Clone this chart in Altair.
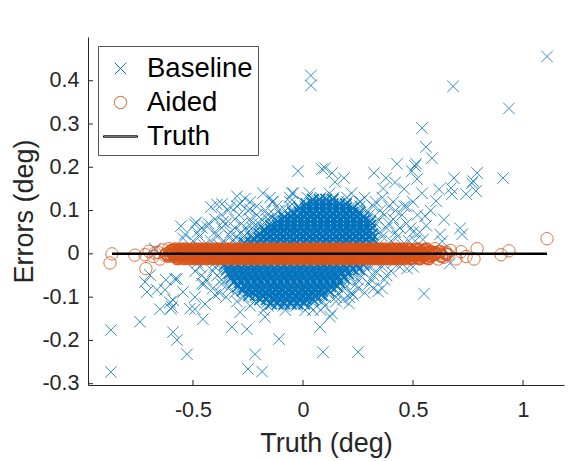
import altair as alt
import pandas as pd

# ---------------- data ----------------
series_names = ["Baseline", "Aided", "Truth"]
series_colors = ["#0072BD", "#D95319", "#000000"]

# Baseline errors: scattered outliers (truth, error)
base_out_x = [1.109, 0.036, 0.036, 0.682, 0.936, 0.541, 0.559, 0.586, 0.909, -0.023,
              0.086, 0.132, 0.186, 0.323, 0.427, 0.377, 0.495, 0.514, 0.518, 0.686,
              0.791, 0.768, 0.786, 0.741, 0.673, 0.618, 0.677, 0.605, 0.641, 0.714,
              0.509, 0.773, 0.541, 0.555, 0.723, 0.623, 0.632, 0.545, 0.668, 0.550,
              0.473, 0.359, 0.341, 0.209, 0.227, 0.132, 0.123, 0.045, 0.077, 0.091,
              0.250, 0.064, 0.182, -0.709, -0.664, -0.591, -0.573, -0.527, -0.455, -0.323,
              -0.255, -0.218, -0.250, -0.186, -0.109, -0.173, -0.286, -0.491, -0.650, -0.595,
              -0.741, -0.873, -0.873, -0.605, -0.600, -0.718, -0.695, -0.582, -0.555, -0.491,
              -0.536, -0.673, -0.514, -0.623, -0.545, -0.486, -0.545, -0.418, -0.368, -0.300,
              -0.286, -0.182, -0.136, -0.045, -0.241, -0.364, -0.436, -0.264, -0.391, -0.332,
              0.100, 0.145, 0.364, 0.259, 0.418, -0.491, -0.445, -0.400, -0.459, -0.573,
              -0.627, -0.590, 0.500, 0.520, 0.490, 0.530, 0.510, 0.560, 0.580, 0.500,
              0.460, 0.470]
base_out_y = [0.456, 0.412, 0.389, 0.387, 0.336, 0.291, 0.247, 0.221, 0.175, 0.191,
              0.196, 0.187, 0.175, 0.187, 0.208, 0.175, 0.191, 0.208, 0.173, 0.175,
              0.187, 0.163, 0.145, 0.138, 0.152, 0.149, 0.138, 0.122, 0.079, 0.059,
              0.203, 0.168, 0.140, 0.087, 0.045, 0.045, 0.029, 0.033, -0.022, -0.092,
              -0.034, -0.080, -0.087, -0.115, -0.095, -0.138, -0.145, -0.130, -0.169, -0.227,
              -0.227, -0.104, -0.106, -0.088, -0.083, -0.181, -0.199, -0.232, -0.151, -0.169,
              -0.174, -0.232, -0.266, -0.272, -0.197, -0.146, -0.135, -0.128, -0.128, -0.123,
              -0.157, -0.273, -0.176, -0.112, -0.127, -0.065, -0.049, -0.058, 0.064, 0.068,
              0.045, 0.012, -0.127, -0.060, -0.088, 0.073, 0.036, 0.108, 0.115, 0.133,
              0.116, 0.140, 0.121, 0.140, 0.103, 0.074, 0.063, 0.128, 0.114, 0.109,
              0.198, 0.166, 0.151, 0.121, 0.165, -0.100, -0.116, -0.095, -0.069, -0.058,
              -0.083, -0.107, 0.120, 0.090, 0.060, 0.050, 0.030, 0.065, 0.100, -0.030,
              0.150, 0.110]

# Baseline errors: cloud, one list of truth values per error level
core_levels = [0.14, 0.13, 0.12, 0.11, 0.10, 0.09, 0.08, 0.07, 0.06, 0.05, 0.04, 0.03, 0.02,
               -0.02, -0.03, -0.04, -0.05, -0.06, -0.07, -0.08, -0.09, -0.10, -0.11, -0.12, -0.13]
core_truth = [
    [-0.05, 0.03, 0.12, 0.22],
    [-0.15, -0.06, 0.02, 0.08, 0.14, 0.20, 0.28, 0.36],
    [-0.24, -0.14, -0.06, 0.00, 0.04, 0.08, 0.12, 0.16, 0.20, 0.26, 0.33, 0.41],
    [-0.30, -0.21, -0.12, -0.06, -0.02, 0.01, 0.04, 0.07, 0.10, 0.13, 0.16, 0.19, 0.22, 0.26, 0.32, 0.39, 0.46],
    [-0.34, -0.25, -0.17, -0.11, -0.08, -0.05, -0.02, 0.01, 0.04, 0.07, 0.10, 0.13, 0.16, 0.19, 0.22, 0.25, 0.29, 0.35, 0.42],
    [-0.37, -0.29, -0.21, -0.16, -0.13, -0.10, -0.07, -0.04, -0.01, 0.02, 0.05, 0.08, 0.11, 0.14, 0.17, 0.20, 0.23, 0.26, 0.30, 0.37, 0.45],
    [-0.40, -0.31, -0.24, -0.19, -0.16, -0.13, -0.10, -0.07, -0.04, -0.01, 0.02, 0.05, 0.08, 0.11, 0.14, 0.17, 0.20, 0.23, 0.26, 0.29, 0.34, 0.41],
    [-0.43, -0.35, -0.28, -0.23, -0.20, -0.17, -0.14, -0.11, -0.08, -0.05, -0.02, 0.01, 0.04, 0.07, 0.10, 0.13, 0.16, 0.19, 0.22, 0.25, 0.28, 0.33, 0.39, 0.47],
    [-0.46, -0.37, -0.31, -0.26, -0.23, -0.20, -0.17, -0.14, -0.11, -0.08, -0.05, -0.02, 0.01, 0.04, 0.07, 0.10, 0.13, 0.16, 0.19, 0.22, 0.25, 0.28, 0.32, 0.38, 0.44],
    [-0.48, -0.40, -0.33, -0.28, -0.25, -0.22, -0.19, -0.16, -0.13, -0.10, -0.07, -0.04, -0.01, 0.02, 0.05, 0.08, 0.11, 0.14, 0.17, 0.20, 0.23, 0.26, 0.29, 0.35, 0.42, 0.50],
    [-0.47, -0.39, -0.33, -0.30, -0.27, -0.24, -0.21, -0.18, -0.15, -0.12, -0.09, -0.06, -0.03, 0.00, 0.03, 0.06, 0.09, 0.12, 0.15, 0.18, 0.21, 0.24, 0.27, 0.30, 0.36, 0.43],
    [-0.50, -0.42, -0.36, -0.32, -0.29, -0.26, -0.23, -0.20, -0.17, -0.14, -0.11, -0.08, -0.05, -0.02, 0.01, 0.04, 0.07, 0.10, 0.13, 0.16, 0.19, 0.22, 0.25, 0.28, 0.33, 0.40, 0.48],
    [-0.45, -0.38, -0.30, -0.22, -0.14, -0.06, 0.02, 0.10, 0.18, 0.26, 0.34, 0.45],
    [-0.48, -0.40, -0.31, -0.23, -0.15, -0.07, 0.01, 0.09, 0.17, 0.25, 0.33, 0.41],
    [-0.47, -0.40, -0.35, -0.32, -0.29, -0.26, -0.23, -0.20, -0.17, -0.14, -0.11, -0.08, -0.05, -0.02, 0.01, 0.04, 0.07, 0.10, 0.13, 0.16, 0.19, 0.22, 0.25, 0.30, 0.36, 0.44],
    [-0.49, -0.41, -0.35, -0.32, -0.29, -0.26, -0.23, -0.20, -0.17, -0.14, -0.11, -0.08, -0.05, -0.02, 0.01, 0.04, 0.07, 0.10, 0.13, 0.16, 0.19, 0.22, 0.27, 0.33, 0.40],
    [-0.46, -0.39, -0.33, -0.30, -0.27, -0.24, -0.21, -0.18, -0.15, -0.12, -0.09, -0.06, -0.03, 0.00, 0.03, 0.06, 0.09, 0.12, 0.15, 0.18, 0.21, 0.26, 0.32, 0.38],
    [-0.44, -0.37, -0.32, -0.29, -0.26, -0.23, -0.20, -0.17, -0.14, -0.11, -0.08, -0.05, -0.02, 0.01, 0.04, 0.07, 0.10, 0.13, 0.16, 0.20, 0.25, 0.31, 0.37],
    [-0.45, -0.37, -0.30, -0.27, -0.24, -0.21, -0.18, -0.15, -0.12, -0.09, -0.06, -0.03, 0.00, 0.03, 0.06, 0.09, 0.12, 0.15, 0.19, 0.24, 0.30],
    [-0.41, -0.34, -0.28, -0.25, -0.22, -0.19, -0.16, -0.13, -0.10, -0.07, -0.04, -0.01, 0.02, 0.05, 0.08, 0.11, 0.14, 0.19, 0.25, 0.32],
    [-0.38, -0.31, -0.25, -0.22, -0.19, -0.16, -0.13, -0.10, -0.07, -0.04, -0.01, 0.02, 0.05, 0.08, 0.11, 0.16, 0.22, 0.28],
    [-0.35, -0.27, -0.21, -0.18, -0.15, -0.12, -0.09, -0.06, -0.03, 0.00, 0.03, 0.06, 0.10, 0.15, 0.21],
    [-0.30, -0.22, -0.16, -0.12, -0.09, -0.06, -0.03, 0.00, 0.04, 0.09, 0.15],
    [-0.24, -0.16, -0.09, -0.03, 0.03, 0.10],
    [-0.18, -0.08, 0.01, 0.08],
]

# Baseline errors: densest part of the cloud, between the levels above
dense_levels = [0.125, 0.115, 0.105, 0.095, 0.085, 0.075, 0.065, 0.055, 0.045, 0.035, 0.025,
                -0.025, -0.035, -0.045, -0.055, -0.065, -0.075, -0.085, -0.095, -0.105, -0.115]
dense_truth = [
    [0.045, 0.075, 0.105, 0.135],
    [0.015, 0.045, 0.075, 0.105, 0.135, 0.165, 0.195],
    [-0.015, 0.015, 0.045, 0.075, 0.105, 0.135, 0.165, 0.195, 0.225],
    [-0.045, -0.015, 0.015, 0.045, 0.075, 0.105, 0.135, 0.165, 0.195, 0.225, 0.255],
    [-0.085, -0.055, -0.025, 0.005, 0.035, 0.065, 0.095, 0.125, 0.155, 0.185, 0.215, 0.245, 0.275],
    [-0.115, -0.085, -0.055, -0.025, 0.005, 0.035, 0.065, 0.095, 0.125, 0.155, 0.185, 0.215, 0.245, 0.275, 0.305],
    [-0.145, -0.115, -0.085, -0.055, -0.025, 0.005, 0.035, 0.065, 0.095, 0.125, 0.155, 0.185, 0.215, 0.245, 0.275, 0.305],
    [-0.175, -0.145, -0.115, -0.085, -0.055, -0.025, 0.005, 0.035, 0.065, 0.095, 0.125, 0.155, 0.185, 0.215, 0.245, 0.275, 0.305],
    [-0.195, -0.165, -0.135, -0.105, -0.075, -0.045, -0.015, 0.015, 0.045, 0.075, 0.105, 0.135, 0.165, 0.195, 0.225, 0.255, 0.285, 0.315],
    [-0.225, -0.195, -0.165, -0.135, -0.105, -0.075, -0.045, -0.015, 0.015, 0.045, 0.075, 0.105, 0.135, 0.165, 0.195, 0.225, 0.255, 0.285, 0.315],
    [-0.265, -0.235, -0.205, -0.175, -0.145, -0.115, -0.085, -0.055, -0.025, 0.005, 0.035, 0.065, 0.095, 0.125, 0.155, 0.185, 0.215, 0.245, 0.275, 0.305],
    [-0.355, -0.325, -0.295, -0.265, -0.235, -0.205, -0.175, -0.145, -0.115, -0.085, -0.055, -0.025, 0.005, 0.035, 0.065, 0.095, 0.125, 0.155, 0.185, 0.215, 0.245, 0.275],
    [-0.345, -0.315, -0.285, -0.255, -0.225, -0.195, -0.165, -0.135, -0.105, -0.075, -0.045, -0.015, 0.015, 0.045, 0.075, 0.105, 0.135, 0.165, 0.195, 0.225, 0.255],
    [-0.335, -0.305, -0.275, -0.245, -0.215, -0.185, -0.155, -0.125, -0.095, -0.065, -0.035, -0.005, 0.025, 0.055, 0.085, 0.115, 0.145, 0.175, 0.205],
    [-0.325, -0.295, -0.265, -0.235, -0.205, -0.175, -0.145, -0.115, -0.085, -0.055, -0.025, 0.005, 0.035, 0.065, 0.095, 0.125, 0.155, 0.185],
    [-0.315, -0.285, -0.255, -0.225, -0.195, -0.165, -0.135, -0.105, -0.075, -0.045, -0.015, 0.015, 0.045, 0.075, 0.105, 0.135, 0.165],
    [-0.295, -0.265, -0.235, -0.205, -0.175, -0.145, -0.115, -0.085, -0.055, -0.025, 0.005, 0.035, 0.065, 0.095, 0.125, 0.155],
    [-0.275, -0.245, -0.215, -0.185, -0.155, -0.125, -0.095, -0.065, -0.035, -0.005, 0.025, 0.055, 0.085, 0.115],
    [-0.245, -0.215, -0.185, -0.155, -0.125, -0.095, -0.065, -0.035, -0.005, 0.025, 0.055, 0.085],
    [-0.195, -0.165, -0.135, -0.105, -0.075, -0.045, -0.015, 0.015, 0.045],
    [-0.145, -0.115, -0.085, -0.055, -0.025, 0.005],
]

# Aided errors: dense band, one list of truth values per error level
aided_levels = [0.011, 0.008, 0.005, 0.002, 0.0, -0.002, -0.005, -0.008, -0.011]
aided_truth = [
    [-0.58, -0.55, -0.53, -0.50, -0.48, -0.45, -0.43, -0.40, -0.38, -0.35, -0.33, -0.30, -0.28, -0.25, -0.23,
     -0.20, -0.18, -0.15, -0.13, -0.10, -0.08, -0.05, -0.03, 0.00, 0.02, 0.05, 0.07, 0.10, 0.12, 0.15, 0.17,
     0.20, 0.22, 0.25, 0.27, 0.30, 0.32, 0.35, 0.37, 0.40, 0.42, 0.45, 0.48, 0.52, 0.56],
    [-0.595, -0.57, -0.545, -0.52, -0.495, -0.47, -0.445, -0.42, -0.395, -0.37, -0.345, -0.32, -0.295, -0.27,
     -0.245, -0.22, -0.195, -0.17, -0.145, -0.12, -0.095, -0.07, -0.045, -0.02, 0.005, 0.03, 0.055, 0.08,
     0.105, 0.13, 0.155, 0.18, 0.205, 0.23, 0.255, 0.28, 0.305, 0.33, 0.355, 0.38, 0.405, 0.43, 0.455, 0.485,
     0.515, 0.55],
    [-0.60, -0.57, -0.54, -0.52, -0.49, -0.47, -0.44, -0.42, -0.39, -0.37, -0.34, -0.32, -0.29, -0.27, -0.24,
     -0.22, -0.19, -0.17, -0.14, -0.12, -0.09, -0.07, -0.04, -0.02, 0.01, 0.03, 0.06, 0.08, 0.11, 0.13, 0.16,
     0.18, 0.21, 0.23, 0.26, 0.28, 0.31, 0.33, 0.36, 0.38, 0.41, 0.44, 0.47, 0.50, 0.54, 0.58, 0.62],
    [-0.588, -0.563, -0.538, -0.513, -0.488, -0.463, -0.438, -0.413, -0.388, -0.363, -0.338, -0.313, -0.288,
     -0.263, -0.238, -0.213, -0.188, -0.163, -0.138, -0.113, -0.088, -0.063, -0.038, -0.013, 0.012, 0.037,
     0.062, 0.087, 0.112, 0.137, 0.162, 0.187, 0.212, 0.237, 0.262, 0.287, 0.312, 0.337, 0.362, 0.387, 0.412,
     0.437, 0.462, 0.487, 0.512, 0.537, 0.57, 0.60],
    [-0.62, -0.59, -0.56, -0.535, -0.51, -0.485, -0.46, -0.435, -0.41, -0.385, -0.36, -0.335, -0.31, -0.285,
     -0.26, -0.235, -0.21, -0.185, -0.16, -0.135, -0.11, -0.085, -0.06, -0.035, -0.01, 0.015, 0.04, 0.065,
     0.09, 0.115, 0.14, 0.165, 0.19, 0.215, 0.24, 0.265, 0.29, 0.315, 0.34, 0.365, 0.39, 0.415, 0.44, 0.465,
     0.49, 0.52, 0.55, 0.60, 0.65],
    [-0.602, -0.577, -0.552, -0.527, -0.502, -0.477, -0.452, -0.427, -0.402, -0.377, -0.352, -0.327, -0.302,
     -0.277, -0.252, -0.227, -0.202, -0.177, -0.152, -0.127, -0.102, -0.077, -0.052, -0.027, -0.002, 0.023,
     0.048, 0.073, 0.098, 0.123, 0.148, 0.173, 0.198, 0.223, 0.248, 0.273, 0.298, 0.323, 0.348, 0.373, 0.398,
     0.423, 0.448, 0.473, 0.498, 0.525, 0.555, 0.59],
    [-0.61, -0.58, -0.555, -0.525, -0.50, -0.475, -0.45, -0.425, -0.40, -0.375, -0.35, -0.325, -0.30, -0.275,
     -0.25, -0.225, -0.20, -0.175, -0.15, -0.125, -0.10, -0.075, -0.05, -0.025, 0.00, 0.025, 0.05, 0.075,
     0.10, 0.125, 0.15, 0.175, 0.20, 0.225, 0.25, 0.275, 0.30, 0.325, 0.35, 0.375, 0.40, 0.425, 0.45, 0.48,
     0.51, 0.545, 0.58, 0.63],
    [-0.565, -0.535, -0.508, -0.482, -0.457, -0.432, -0.407, -0.382, -0.357, -0.332, -0.307, -0.282, -0.257,
     -0.232, -0.207, -0.182, -0.157, -0.132, -0.107, -0.082, -0.057, -0.032, -0.007, 0.018, 0.043, 0.068,
     0.093, 0.118, 0.143, 0.168, 0.193, 0.218, 0.243, 0.268, 0.293, 0.318, 0.343, 0.368, 0.393, 0.418, 0.443,
     0.468, 0.495, 0.525, 0.56],
    [-0.57, -0.54, -0.515, -0.49, -0.465, -0.44, -0.415, -0.39, -0.365, -0.34, -0.315, -0.29, -0.265, -0.24,
     -0.215, -0.19, -0.165, -0.14, -0.115, -0.09, -0.065, -0.04, -0.015, 0.01, 0.035, 0.06, 0.085, 0.11,
     0.135, 0.16, 0.185, 0.21, 0.235, 0.26, 0.285, 0.31, 0.335, 0.36, 0.385, 0.41, 0.435, 0.46, 0.49, 0.53, 0.57],
]

# Aided errors: sparse points at both ends
aided_out_x = [-0.868, -0.877, -0.764, -0.714, -0.718, -0.680, -0.673, -0.636, -0.650, -0.625, -0.660,
               -0.700, -0.610, 0.650, 0.660, 0.695, 0.718, 0.741, 0.777, 0.791, 0.900, 0.936, 1.109,
               0.640, 0.670, 0.600, 0.615, 0.620]
aided_out_y = [0.000, -0.021, -0.003, -0.034, -0.002, -0.006, 0.002, 0.009, -0.012, -0.004, 0.004,
               0.006, 0.012, 0.004, -0.002, -0.012, 0.005, -0.006, -0.012, 0.012, -0.002, 0.007, 0.035,
               -0.008, 0.008, 0.012, -0.012, 0.000]

# Truth reference line
truth_x = [-0.868, 1.109]
truth_err = [0.0, 0.0]

# Axis ticks
x_ticks = [-0.5, 0.0, 0.5, 1.0]
y_ticks = [-0.3, -0.2, -0.1, 0.0, 0.1, 0.2, 0.3, 0.4]


# ---------------- tables ----------------
def rows_table(levels, lists, name):
    recs = [(xv, lvl, name) for lvl, xs in zip(levels, lists) for xv in xs]
    return pd.DataFrame(recs, columns=["truth", "err", "series"])


def pairs_table(xs, ys, name):
    return pd.DataFrame({"truth": xs, "err": ys, "series": [name] * len(xs)})


base_sparse = pd.concat([rows_table(core_levels, core_truth, "Baseline"),
                         pairs_table(base_out_x, base_out_y, "Baseline")], ignore_index=True)
base_dense = rows_table(dense_levels, dense_truth, "Baseline")
aided_dense = rows_table(aided_levels, aided_truth, "Aided")
aided_sparse = pairs_table(aided_out_x, aided_out_y, "Aided")
line_df = pairs_table(truth_x, truth_err, "Truth")
xt_df = pd.DataFrame({"truth": x_ticks})
yt_df = pd.DataFrame({"err": y_ticks})

# ---------------- styling ----------------
W, H = 476, 348
FONT = "Liberation Sans"
AX = "#262626"

cross_path = "M-0.34,-0.34L0.34,0.34M-0.34,0.34L0.34,-0.34"
circle_path = "M0.36,0A0.36,0.36,0,1,1,-0.36,0A0.36,0.36,0,1,1,0.36,0Z"
line_path = "M-1,-0.04L1,-0.04L1,0.04L-1,0.04Z"

hy = "datum.value < 0 ? '-' + format(-datum.value, '.1~f') : format(datum.value, '.1~f')"

x_axis = alt.Axis(values=x_ticks, labelExpr=hy, ticks=False, tickSize=0, grid=False,
                  domainColor=AX, domainWidth=1, labelFont=FONT, labelFontSize=21.5,
                  labelColor=AX, labelPadding=31, labelBaseline="alphabetic", labelFlush=False,
                  title="Truth (deg)", titleFont=FONT, titleFontSize=27, titleFontWeight="normal",
                  titleColor=AX, titleX=238, titleY=66, titleAlign="center",
                  titleBaseline="alphabetic")
y_axis = alt.Axis(values=y_ticks, labelExpr=hy, ticks=False, tickSize=0, grid=False,
                  domainColor=AX, domainWidth=1, labelFont=FONT, labelFontSize=21.5,
                  labelColor=AX, labelPadding=9, labelAlign="right", labelBaseline="middle",
                  labelFlush=False,
                  title="Errors (deg)", titleFont=FONT, titleFontSize=27, titleFontWeight="normal",
                  titleColor=AX, titleX=-56, titleY=174, titleAngle=270, titleAlign="center",
                  titleBaseline="alphabetic")

xsc = alt.Scale(domain=[-0.977, 1.186], nice=False, zero=False)
ysc = alt.Scale(domain=[-0.303, 0.501], nice=False, zero=False)

X = alt.X("truth:Q", scale=xsc, axis=x_axis)
Y = alt.Y("err:Q", scale=ysc, axis=y_axis)

leg = alt.Legend(title=None, orient="none", legendX=10, legendY=9, padding=5,
                 strokeColor="#555555", fillColor="white", labelFont=FONT, labelFontSize=27.5,
                 labelColor="black", symbolSize=1156, symbolStrokeWidth=1, labelOffset=9,
                 rowPadding=3, labelLimit=400, symbolOpacity=1)

color = alt.Color("series:N", scale=alt.Scale(domain=series_names, range=series_colors), legend=leg)
shape = alt.Shape("series:N", scale=alt.Scale(domain=series_names,
                                              range=[cross_path, circle_path, line_path]), legend=leg)


def point_layer(df, sw, op):
    return alt.Chart(df).mark_point(filled=False, size=1156, strokeWidth=sw, opacity=op).encode(
        x=X, y=Y, color=color, shape=shape)


l_base_sparse = point_layer(base_sparse, 1.0, 0.8)
l_base_dense = point_layer(base_dense, 1.8, 0.9)
l_aided_dense = point_layer(aided_dense, 1.6, 0.9)
l_aided_sparse = point_layer(aided_sparse, 1.0, 0.85)

truth_line = alt.Chart(line_df).mark_line(strokeWidth=2.5).encode(x=X, y=Y, color=color)

xticks = alt.Chart(xt_df).mark_rule(color=AX, strokeWidth=1).encode(
    x=X, y=alt.value(H), y2=alt.value(H - 5))
yticks = alt.Chart(yt_df).mark_rule(color=AX, strokeWidth=1).encode(
    y=Y, x=alt.value(0), x2=alt.value(5))

chart = alt.layer(l_base_sparse, l_base_dense, l_aided_dense, l_aided_sparse,
                  truth_line, xticks, yticks).properties(
    width=W, height=H,
    padding={"left": 88, "top": 37, "right": 4, "bottom": 76},
    autosize=alt.AutoSizeParams(type="none"),
    background="white",
).configure_view(stroke=None)

chart.save("out.html", embed_options={"renderer": "svg", "actions": False})
